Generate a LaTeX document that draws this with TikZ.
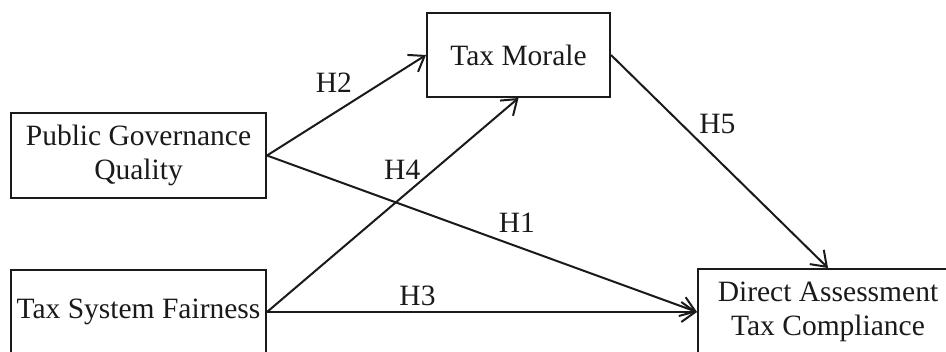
\documentclass[tikz,border=0pt]{standalone}
\usepackage{fontspec}
\setmainfont{Liberation Serif}
\usetikzlibrary{arrows.meta,positioning}
\definecolor{hkInk}{HTML}{1A1A1A}
\tikzset{
  cbox/.style={rectangle,draw=hkInk,line width=1pt,fill=white,
    minimum width=127.5pt,minimum height=42.5pt,inner sep=2pt,
    align=center,font=\fontsize{14.75}{17}\selectfont,text=hkInk},
  arr/.style={-{Straight Barb[length=7pt,width=10pt]},line width=1pt,color=hkInk},
  lbl/.style={font=\fontsize{14.75}{17}\selectfont,text=hkInk,inner sep=0pt},
}
\begin{document}
\begin{tikzpicture}[x=0.5pt,y=-0.5pt]
  \useasboundingbox (0,0) rectangle (946,352);
  \node[cbox] (pgq) at (138.5,155.5) {Public Governance\\Quality};
  \node[cbox] (tsf) at (138.5,312) {Tax System Fairness};
  \node[cbox,minimum width=91.5pt,minimum height=42pt] (tm) at (518.5,55)
    {Tax Morale};
  \node[cbox,minimum width=130pt,minimum height=43pt] (datc) at (828,312)
    {Direct Assessment\\Tax Compliance};

  \draw[arr] (pgq.east) -- node[lbl,pos=.42,yshift=15.5pt] (h2) {H2} (tm.west);
  \draw[arr] (pgq.east) -- node[lbl,pos=.581,yshift=12pt] (h1) {H1} (datc.west);
  \draw[arr] (tsf.east) -- node[lbl,pos=.665,xshift=-16pt] (h4) {H4} (tm.south);
  \draw[arr] (tsf.east) -- node[lbl,pos=.35,yshift=8pt] (h3) {H3} (datc.west);
  \draw[arr] (tm.east) -- node[lbl,pos=.49,yshift=17.5pt] (h5) {H5} (datc.north);
\end{tikzpicture}
\end{document}
